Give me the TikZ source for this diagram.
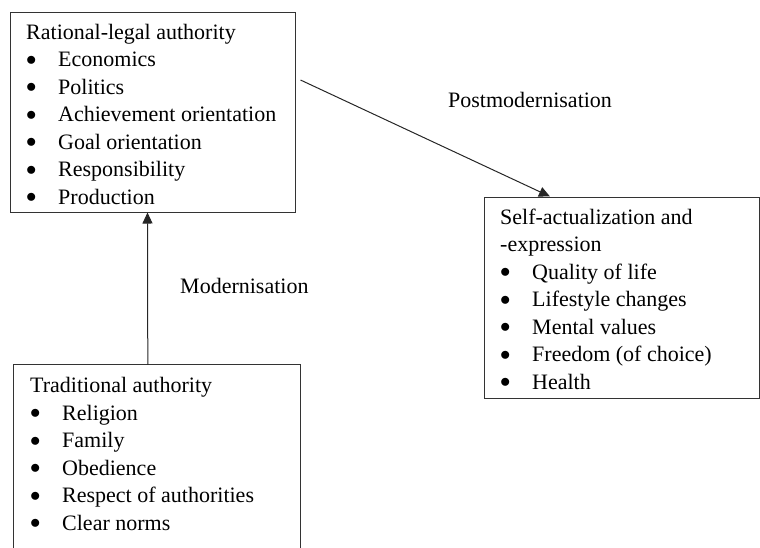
\documentclass[tikz,border=0pt]{standalone}
\usepackage{fontspec}
\setmainfont{Liberation Serif}
\usetikzlibrary{arrows.meta,calc}
\newcommand\bulitem[1]{\makebox[32pt][l]{\raisebox{1.2pt}{$\bullet$}}#1}
\begin{document}
\begin{tikzpicture}[x=1pt,y=-1pt,
  box/.style={draw=black!80, line width=1pt, rectangle, inner sep=0pt},
  boxline/.style={draw=black!80, line width=1pt},
  txt/.style={anchor=base west, inner sep=0pt, font=\fontsize{22}{27.5}\selectfont, text=black},
  arr/.style={draw=black!85, line width=1pt, -{Triangle[length=11pt,width=10pt]}}]
\useasboundingbox (0,0) rectangle (760,547);
% boxes
\node[box, minimum width=285pt, minimum height=200pt] (rl) at (152.5,112) {};
\node[box, minimum width=275pt, minimum height=201pt] (sa) at (621.5,297.5) {};
\node[inner sep=0pt, minimum width=286pt, minimum height=184pt] (tr) at (157,457) {};
\draw[boxline] (tr.south west) -- (tr.north west) -- (tr.north east) -- (tr.south east);
% top box text
\node[txt] (rlt) at (26,39) {Rational-legal authority};
\foreach \t [count=\i] in {Economics,Politics,Achievement orientation,Goal orientation,Responsibility,Production}
  \node[txt] (rl\i) at (26,{39+27.5*\i}) {\bulitem{\t}};
% right box text
\node[txt] (sat1) at (500,224) {Self-actualization and};
\node[txt] (sat2) at (500,251.5) {-expression};
\foreach \t [count=\i] in {Quality of life,Lifestyle changes,Mental values,Freedom (of choice),Health}
  \node[txt] (sa\i) at (500,{251.5+27.5*\i}) {\bulitem{\t}};
% bottom box text
\node[txt] (trt) at (30,392.5) {Traditional authority};
\foreach \t [count=\i] in {Religion,Family,Obedience,Respect of authorities,Clear norms}
  \node[txt] (tr\i) at (30,{392.5+27.5*\i}) {\bulitem{\t}};
% labels
\node[txt] (lpm) at (448,107) {Postmodernisation};
\node[txt] (lm) at (180,293) {Modernisation};
% arrows
\draw[arr] ([xshift=134pt]tr.north west) -- ([xshift=138pt]rl.south west);
\draw[arr] ([xshift=5pt,yshift=32pt]rl.east) -- ([xshift=-71.5pt]sa.north);
\end{tikzpicture}
\end{document}
